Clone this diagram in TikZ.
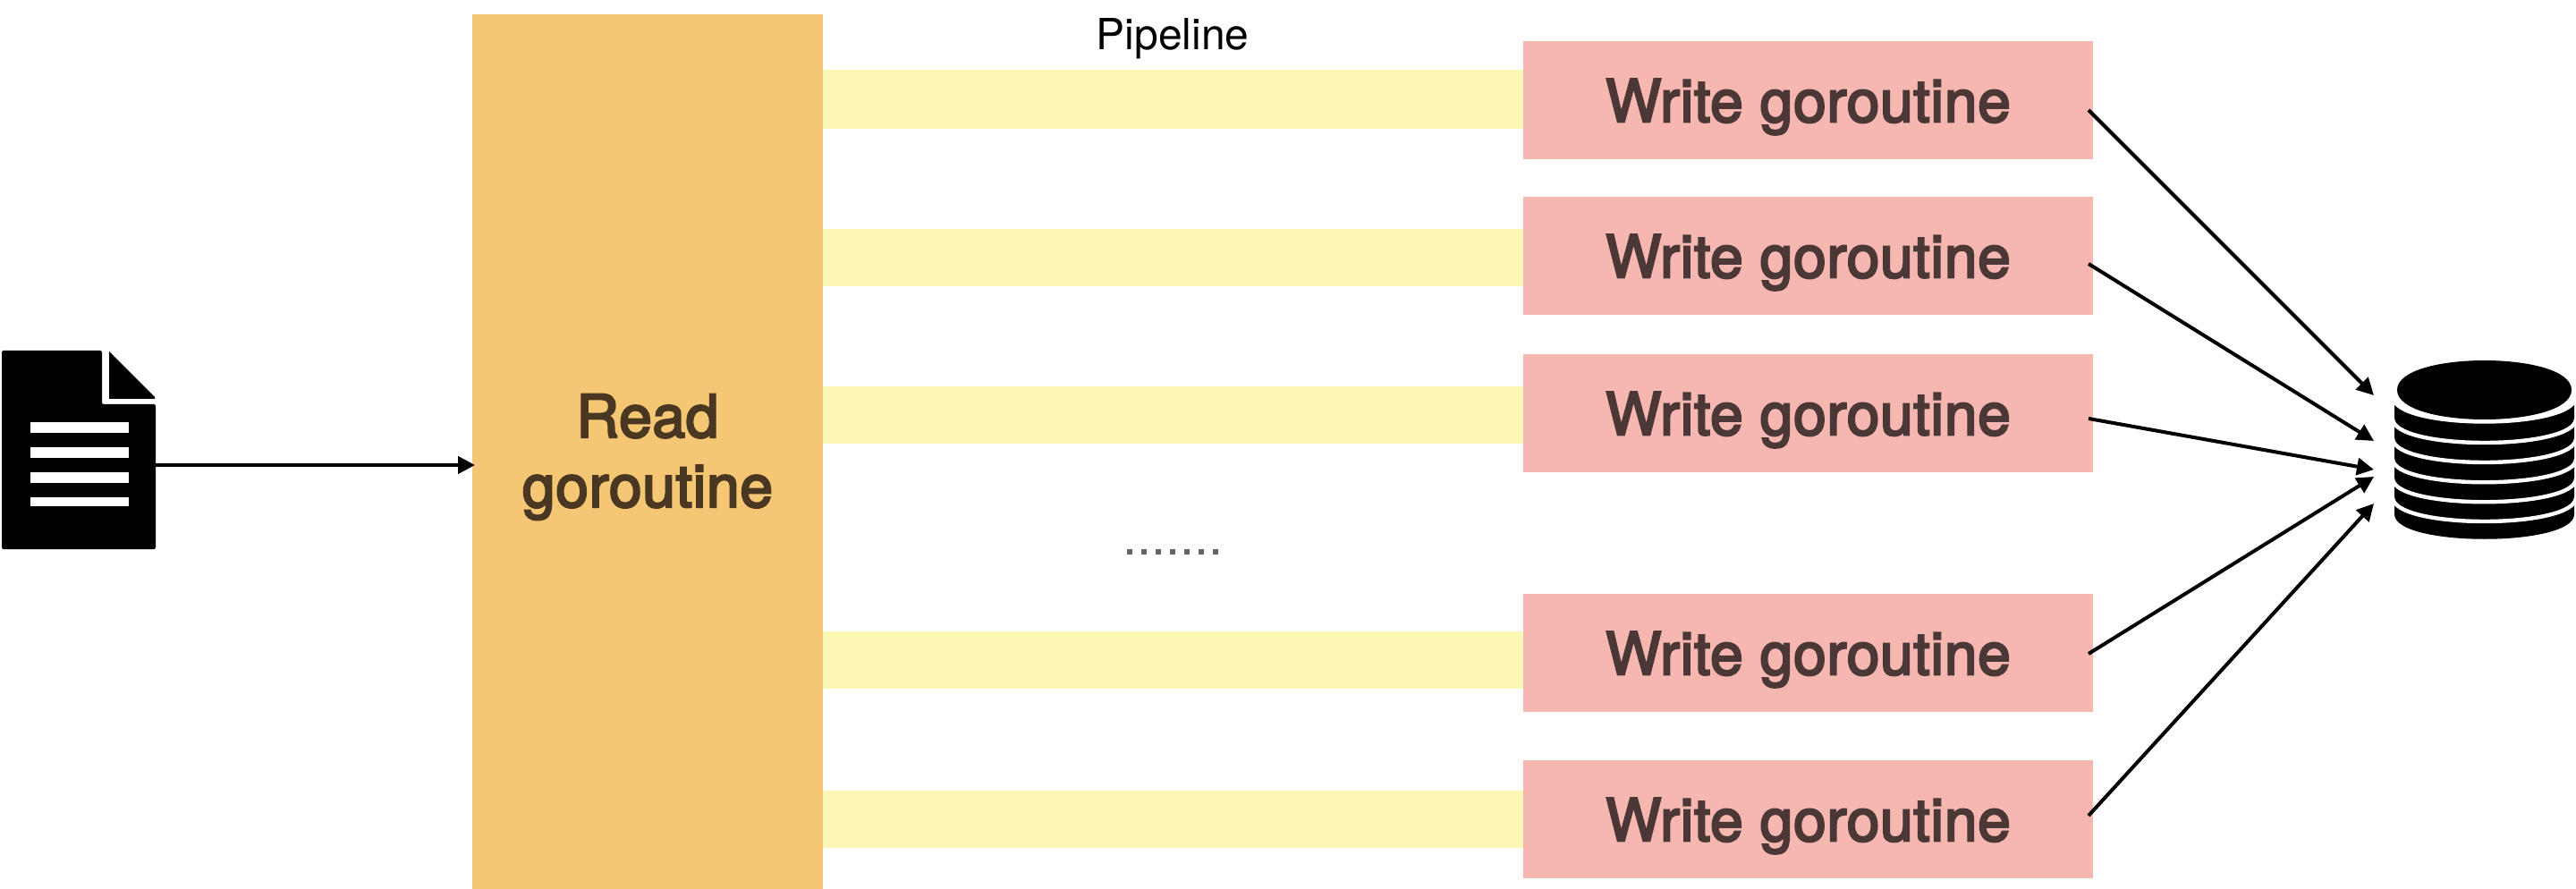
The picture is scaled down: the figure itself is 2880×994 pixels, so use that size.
\documentclass[tikz,border=0pt]{standalone}
\usepackage{fontspec}
\setmainfont{TeX Gyre Heros}
\newfontfamily\boxfont[FakeBold=3.5,LetterSpace=1]{TeX Gyre Heros}
\usetikzlibrary{arrows.meta}
\definecolor{readfill}{HTML}{F5C775}
\definecolor{readtext}{HTML}{4A3722}
\definecolor{pipefill}{HTML}{FDF7B5}
\definecolor{writefill}{HTML}{F6B7B1}
\definecolor{writetext}{HTML}{4B3735}
\definecolor{dotgray}{HTML}{666666}
\tikzset{
  x=0.5pt,y=-0.5pt,
  plain/.style={rectangle,inner sep=0pt,outer sep=0pt,draw=none},
  pipebar/.style={plain,fill=pipefill,minimum width=391.5pt},
  writebox/.style={plain,fill=writefill,minimum width=318.5pt,minimum height=66pt,
    text=writetext,font=\boxfont\fontsize{33}{39}\selectfont,text height=24.3pt,text depth=0pt},
  readbox/.style={plain,fill=readfill,minimum width=196pt,minimum height=489pt},
  readlabel/.style={plain,text=readtext,font=\boxfont\fontsize{33}{39}\selectfont,align=center},
  flow/.style={line width=2pt,-{Triangle[length=9.5pt,width=9.5pt]}},
  iconbox/.style={plain,fill=black},
}
\begin{document}
\begin{tikzpicture}
\useasboundingbox (0,0) rectangle (2880,994);
\fill[white] (0,0) rectangle (2880,994);
% pipelines
\node[pipebar,minimum height=33pt] (p1) at (1311.5,111) {};
\node[pipebar,minimum height=32pt] (p2) at (1311.5,288) {};
\node[pipebar,minimum height=32pt] (p3) at (1311.5,464) {};
\node[pipebar,minimum height=32pt] (p4) at (1311.5,738) {};
\node[pipebar,minimum height=32pt] (p5) at (1311.5,916) {};
% read box
\node[readbox,label={[readlabel,yshift=-3pt]center:Read\\goroutine}] (read) at (724,505) {};
% write boxes
\node[writebox] (w1) at (2021.5,112) {Write goroutine};
\node[writebox] (w2) at (2021.5,286) {Write goroutine};
\node[writebox] (w3) at (2021.5,462) {Write goroutine};
\node[writebox] (w4) at (2021.5,730) {Write goroutine};
\node[writebox] (w5) at (2021.5,916) {Write goroutine};
% labels
\node[plain,font=\fontsize{24}{28}\selectfont,text=black] (pipelabel) at (1311,43.5) {Pipeline};
\node[plain,font=\fontsize{29}{34}\selectfont,text=dotgray] (dots) at (1311.5,617) {.......};
% file icon
\node[plain,minimum width=86pt,minimum height=111pt] (file) at (88,503) {};
\fill[black,rounded corners=1pt] (2,392) -- (114,392) -- (114,452) -- (174,452) -- (174,614) -- (2,614) -- cycle;
\fill[black] (122,393) -- (173,444) -- (173,446) -- (122,446) -- cycle;
\fill[white] (34,472) rectangle (144,484);
\fill[white] (34,500) rectangle (144,512);
\fill[white] (34,528) rectangle (144,540);
\fill[white] (34,556) rectangle (144,566);
% database icon
\node[plain,minimum width=100.5pt,minimum height=100pt] (db) at (2777.5,503) {};
\fill[black] (2677,445) -- (2677,575) .. controls (2677,612) and (2878,612) .. (2878,575)
  -- (2878,445) .. controls (2878,481) and (2677,481) .. (2677,445) -- cycle;
\foreach \top/\ctl in {443/481,468/504,490/526,513/548,535/570,556/592}{
  \draw[white,line width=2.2pt] (2675,\top) .. controls (2675,\ctl) and (2880,\ctl) .. (2880,\top);
}
\fill[black] (2680,436) .. controls (2680,392) and (2875,392) .. (2875,436)
  .. controls (2875,480) and (2680,480) .. (2680,436) -- cycle;
% arrow ends at the database
\coordinate (t1) at (2654,442);
\coordinate (t2) at (2654,493);
\coordinate (t3) at (2654,525);
\coordinate (t4) at (2654,533);
\coordinate (t5) at (2654,563);
% connectors
\draw[flow,line width=2.2pt] ([yshift=-8.5pt]file.east) -- ([xshift=1.5pt,yshift=-7.5pt]read.west);
\draw[flow] ([xshift=-2.5pt,yshift=-5.5pt]w1.east) -- (t1);
\draw[flow] ([xshift=-2.5pt,yshift=-4.5pt]w2.east) -- (t2);
\draw[flow] ([xshift=-2.5pt,yshift=-3pt]w3.east) -- (t3);
\draw[flow] ([xshift=-2.5pt,yshift=-0.5pt]w4.east) -- (t4);
\draw[flow] ([xshift=-2.5pt,yshift=2pt]w5.east) -- (t5);
\end{tikzpicture}
\end{document}
